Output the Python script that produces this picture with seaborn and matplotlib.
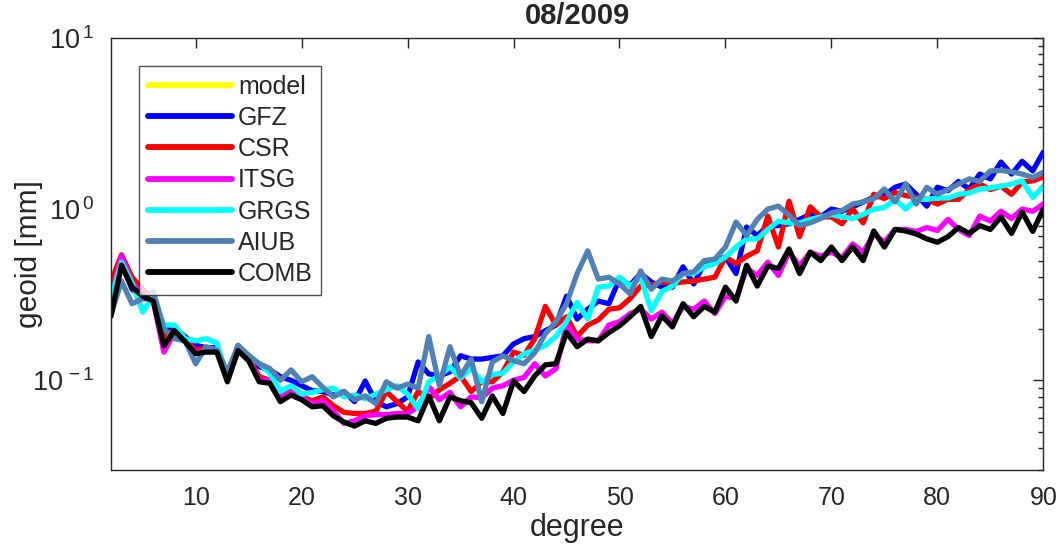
import numpy as np
import pandas as pd
import seaborn as sns
import matplotlib
matplotlib.use("Agg")
import matplotlib.pyplot as plt
from matplotlib.ticker import LogLocator, FixedLocator, NullFormatter, FuncFormatter

degrees = list(range(2, 91))

gfz = [0.34, 0.48, 0.34, 0.30, 0.30, 0.20, 0.20, 0.18, 0.16, 0.155, 0.155, 0.105, 0.155, 0.14, 0.12,
       0.115, 0.105, 0.10, 0.093, 0.087, 0.086, 0.082, 0.086, 0.075, 0.099, 0.075, 0.070, 0.073, 0.080,
       0.128, 0.109, 0.106, 0.112, 0.139, 0.133, 0.133, 0.136, 0.139, 0.163, 0.175, 0.18, 0.195, 0.21,
       0.31, 0.228, 0.26, 0.29, 0.28, 0.39, 0.36, 0.42, 0.375, 0.35, 0.35, 0.46, 0.365, 0.48, 0.50,
       0.525, 0.42, 0.785, 0.70, 0.80, 0.80, 0.82, 0.87, 0.93, 0.90, 1.00, 0.97, 1.03, 1.10, 1.17,
       1.20, 1.34, 1.40, 1.22, 1.04, 1.34, 1.28, 1.45, 1.31, 1.60, 1.50, 1.88, 1.60, 1.90, 1.67, 2.15]

csr = [0.375, 0.54, 0.40, 0.34, 0.30, 0.18, 0.195, 0.175, 0.15, 0.155, 0.15, 0.10, 0.155, 0.135, 0.105,
       0.10, 0.082, 0.088, 0.080, 0.076, 0.080, 0.071, 0.065, 0.064, 0.064, 0.066, 0.086, 0.075, 0.066,
       0.086, 0.078, 0.088, 0.096, 0.106, 0.086, 0.098, 0.098, 0.112, 0.146, 0.14, 0.175, 0.27, 0.21,
       0.235, 0.18, 0.21, 0.225, 0.26, 0.265, 0.30, 0.355, 0.36, 0.375, 0.37, 0.375, 0.38, 0.39, 0.40,
       0.525, 0.48, 0.53, 0.57, 0.91, 0.60, 1.11, 0.69, 1.03, 0.90, 0.90, 0.82, 1.00, 0.83, 1.22,
       1.15, 1.25, 1.20, 1.17, 1.14, 1.07, 1.14, 1.14, 1.30, 1.40, 1.30, 1.36, 1.22, 1.44, 1.46, 1.54]

itsg = [0.30, 0.53, 0.37, 0.32, 0.29, 0.146, 0.19, 0.17, 0.145, 0.148, 0.15, 0.10, 0.152, 0.133, 0.10,
        0.10, 0.080, 0.085, 0.079, 0.073, 0.076, 0.066, 0.056, 0.058, 0.062, 0.063, 0.063, 0.064, 0.064,
        0.070, 0.092, 0.077, 0.085, 0.070, 0.080, 0.079, 0.090, 0.093, 0.10, 0.104, 0.125, 0.106, 0.117,
        0.21, 0.174, 0.17, 0.17, 0.21, 0.22, 0.245, 0.26, 0.228, 0.25, 0.215, 0.27, 0.26, 0.29, 0.245,
        0.31, 0.30, 0.45, 0.41, 0.49, 0.41, 0.56, 0.465, 0.56, 0.53, 0.56, 0.52, 0.625, 0.56, 0.715,
        0.64, 0.76, 0.76, 0.74, 0.78, 0.75, 0.87, 0.76, 0.70, 0.91, 0.85, 0.97, 0.88, 1.00, 0.97, 1.07]

grgs = [0.30, 0.49, 0.37, 0.25, 0.31, 0.21, 0.21, 0.175, 0.17, 0.175, 0.165, 0.105, 0.16, 0.139, 0.125,
        0.11, 0.086, 0.093, 0.083, 0.085, 0.088, 0.090, 0.080, 0.082, 0.078, 0.083, 0.088, 0.093, 0.083,
        0.068, 0.098, 0.106, 0.12, 0.103, 0.118, 0.098, 0.108, 0.11, 0.128, 0.143, 0.15, 0.16, 0.18,
        0.22, 0.285, 0.228, 0.35, 0.355, 0.40, 0.355, 0.40, 0.255, 0.33, 0.355, 0.42, 0.42, 0.46, 0.48,
        0.525, 0.60, 0.67, 0.67, 0.76, 0.85, 0.83, 0.83, 0.87, 0.90, 0.93, 0.90, 0.88, 0.93, 1.00,
        1.02, 1.14, 1.00, 1.14, 1.14, 1.16, 1.16, 1.22, 1.24, 1.31, 1.33, 1.36, 1.40, 1.46, 1.17, 1.36]

aiub = [0.24, 0.38, 0.28, 0.30, 0.33, 0.20, 0.175, 0.17, 0.125, 0.157, 0.15, 0.112, 0.16, 0.14, 0.125,
        0.117, 0.10, 0.115, 0.098, 0.105, 0.091, 0.080, 0.086, 0.077, 0.081, 0.073, 0.098, 0.090, 0.095,
        0.090, 0.18, 0.093, 0.157, 0.106, 0.133, 0.075, 0.128, 0.139, 0.13, 0.125, 0.145, 0.187, 0.22,
        0.28, 0.42, 0.57, 0.39, 0.40, 0.365, 0.32, 0.435, 0.34, 0.39, 0.38, 0.42, 0.43, 0.50, 0.51,
        0.60, 0.84, 0.70, 0.87, 1.00, 1.04, 0.92, 0.80, 0.83, 0.88, 0.95, 0.98, 1.07, 1.10, 1.15,
        1.31, 1.10, 1.40, 1.07, 1.34, 1.22, 1.30, 1.40, 1.50, 1.45, 1.67, 1.68, 1.65, 1.60, 1.53, 1.64]

comb = [0.236, 0.47, 0.35, 0.31, 0.29, 0.159, 0.195, 0.168, 0.143, 0.146, 0.146, 0.098, 0.149, 0.13, 0.098,
        0.096, 0.075, 0.082, 0.077, 0.070, 0.071, 0.062, 0.057, 0.054, 0.058, 0.056, 0.060, 0.061, 0.061,
        0.058, 0.081, 0.058, 0.080, 0.076, 0.074, 0.060, 0.081, 0.064, 0.099, 0.086, 0.106, 0.123, 0.125,
        0.19, 0.157, 0.174, 0.17, 0.19, 0.208, 0.235, 0.27, 0.18, 0.238, 0.205, 0.28, 0.235, 0.27, 0.25,
        0.35, 0.29, 0.47, 0.355, 0.465, 0.45, 0.585, 0.42, 0.56, 0.50, 0.60, 0.50, 0.60, 0.50, 0.745,
        0.60, 0.76, 0.745, 0.715, 0.67, 0.64, 0.69, 0.78, 0.72, 0.80, 0.76, 0.90, 0.72, 0.96, 0.74, 1.00]

model_deg = []
model = []

x_ticks = [10, 20, 30, 40, 50, 60, 70, 80, 90]
names = ["GFZ", "CSR", "ITSG", "GRGS", "AIUB", "COMB"]
series = [gfz, csr, itsg, grgs, aiub, comb]
colors = {"model": "#ffff00", "GFZ": "#0000ff", "CSR": "#ff0000", "ITSG": "#ff00ff",
          "GRGS": "#00ffff", "AIUB": "#4f81b4", "COMB": "#000000"}

sns.set_theme(style="white")
plt.rcParams['font.family'] = ['Liberation Sans', 'DejaVu Sans']
plt.rcParams['mathtext.fontset'] = 'custom'
plt.rcParams['mathtext.rm'] = 'Liberation Sans'
plt.rcParams['mathtext.it'] = 'Liberation Sans:italic'
plt.rcParams['mathtext.bf'] = 'Liberation Sans:bold'
tc = "#262626"
plt.rcParams['text.color'] = tc
plt.rcParams['axes.labelcolor'] = tc
plt.rcParams['xtick.color'] = tc
plt.rcParams['ytick.color'] = tc

fig = plt.figure(figsize=(10.56, 5.56), dpi=100)
ax = fig.add_axes([0.105, 0.155, 0.883, 0.777])

lw = 3.8
ax.plot(model_deg, model, color=colors["model"], lw=lw, label="model")
for name, vals in zip(names, series):
    df = pd.DataFrame({"degree": degrees, "val": vals})
    sns.lineplot(data=df, x="degree", y="val", color=colors[name], lw=lw, label=name,
                 ax=ax, legend=False)

ax.set_yscale("log")
ax.set_xlim(2, 90)
ax.set_ylim(0.03, 10)
ax.xaxis.set_major_locator(FixedLocator(x_ticks))
ax.yaxis.set_major_locator(LogLocator(base=10, numticks=10))
ax.yaxis.set_major_formatter(FuncFormatter(
    lambda v, p: r"$\mathdefault{10^{\,%d}}$" % int(round(np.log10(v)))))
ax.yaxis.set_minor_locator(LogLocator(base=10, subs=np.arange(2, 10), numticks=20))
ax.yaxis.set_minor_formatter(NullFormatter())
ax.tick_params(which="both", direction="in", top=True, right=True, colors=tc)
ax.tick_params(axis="x", labelsize=18, pad=12)
ax.tick_params(axis="y", labelsize=19.5, pad=12)
ax.tick_params(which="major", length=7, width=1)
ax.tick_params(which="minor", length=3.6, width=1)
for s in ax.spines.values():
    s.set_color(tc)
    s.set_linewidth(1.0)

ax.set_xlabel("degree", fontsize=22, labelpad=2)
ax.set_ylabel("geoid [mm]", fontsize=21.5)
ax.yaxis.set_label_coords(-0.088, 0.5)
ax.yaxis.label.set_verticalalignment("center")
ax.set_title("08/2009", fontsize=21, fontweight="bold", pad=10)

leg = ax.legend(loc="upper left", bbox_to_anchor=(0.03, 0.935), borderaxespad=0,
                fontsize=18, handlelength=3.36, handletextpad=0.25, labelspacing=0.29,
                frameon=True, fancybox=False, borderpad=0.35)
leg.get_frame().set_edgecolor(tc)
leg.get_frame().set_linewidth(1.0)
for h in leg.get_lines():
    h.set_linewidth(4.2)

fig.savefig("out.png", dpi=100)
